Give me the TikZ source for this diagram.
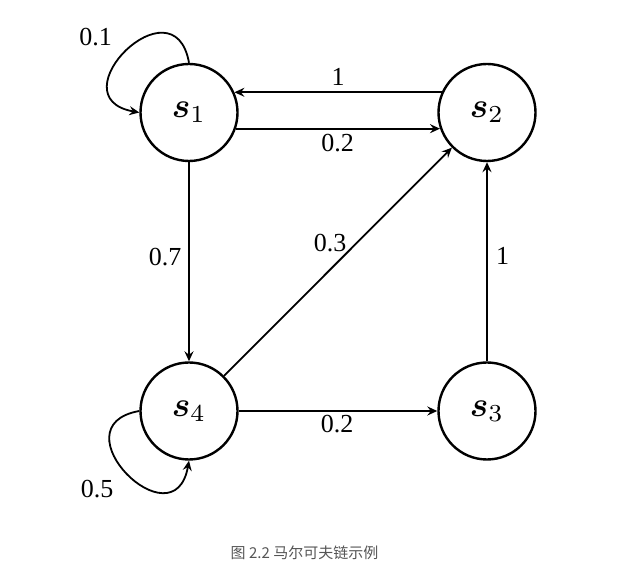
\documentclass[tikz,border=0pt]{standalone}
\usepackage{fix-cm}
\usepackage{graphicx}
\usepackage{amsmath,bm}
\usepackage[no-math]{fontspec}
\setmainfont{Liberation Serif}
\newfontfamily\cjk{Noto Sans CJK SC}
\usetikzlibrary{arrows.meta}
\definecolor{capgray}{HTML}{555555}
\newcommand{\stlabel}[1]{\scalebox{3.5}{\fontsize{10pt}{12pt}\selectfont$\bm{s}_{#1}$}}
\begin{document}
\begin{tikzpicture}[x=1bp,y=1bp,
  state/.style={circle, draw, line width=2.4bp, minimum size=97bp, inner sep=0pt},
  edge/.style={line width=1.8bp, -{Stealth[length=10bp,width=9bp,inset=3.5bp]}},
  prob/.style={font=\fontsize{26bp}{30bp}\selectfont, inner sep=0pt},
  caption/.style={font=\cjk\fontsize{15bp}{18bp}\selectfont, text=capgray, inner sep=0pt}]
\useasboundingbox (0,0) rectangle (634,565);
\node[state] (s1) at (189,452.5) {\stlabel{1}};
\node[state] (s2) at (487,452.5) {\stlabel{2}};
\node[state] (s3) at (487,154) {\stlabel{3}};
\node[state] (s4) at (189,154) {\stlabel{4}};
\draw[edge] (s2.156) -- (s1.24);
\draw[edge] (s1.-19) -- (s2.199);
\draw[edge] (s1) -- (s4);
\draw[edge] (s4) -- (s2);
\draw[edge] (s4) -- (s3);
\draw[edge] (s3) -- (s2);
\draw[edge] (s1.north) to[out=100,in=170,distance=86bp] (s1.west);
\draw[edge] (s4.west) to[out=190,in=260,distance=86bp] (s4.south);
\node[prob] (l11) at (95.5,528) {0.1};
\node[prob] (l44) at (97,76) {0.5};
\node[prob] (l21) at (338,488) {1};
\node[prob] (l12) at (337.5,422) {0.2};
\node[prob] (l43) at (337,141) {0.2};
\node[prob] (l14) at (165,308) {0.7};
\node[prob] (l42) at (330,322) {0.3};
\node[prob] (l32) at (502.5,309) {1};
\node[caption] (cap) at (304.5,12) {图 2.2 马尔可夫链示例};
\end{tikzpicture}
\end{document}
